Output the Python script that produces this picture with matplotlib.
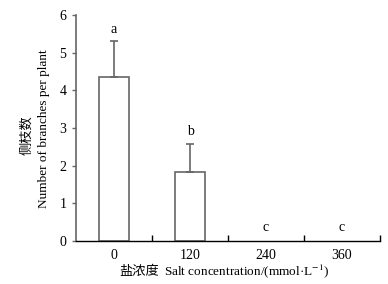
import numpy as np
import matplotlib
matplotlib.use("Agg")
import matplotlib.pyplot as plt

plt.rcParams['font.family'] = ['Liberation Serif', 'Noto Sans CJK SC']
plt.rcParams['mathtext.fontset'] = 'stix'

# dati
concentrazioni = ['0', '120', '240', '360']
rami = [4.35, 1.83, 0.0, 0.0]
errori = [0.95, 0.75, 0.0, 0.0]
lettere = ['a', 'b', 'c', 'c']
pos_lettere = [5.62, 2.9, 0.35, 0.35]

grigio = '#666666'
W, H = 388, 284

fig = plt.figure(figsize=(W / 100, H / 100), dpi=100)
ax = fig.add_axes([76 / W, 1 - 241 / H, 304 / W, 226 / H])

x = np.arange(len(concentrazioni))
v = np.array(rami)
mask = v > 0
ax.bar(x[mask], v[mask], width=0.4, color='white', edgecolor=grigio, linewidth=1.2)
for xi, val, e in zip(x, rami, errori):
    if e > 0:
        ax.errorbar(xi, val, yerr=[[0], [e]], fmt='none', ecolor=grigio,
                    elinewidth=1.2, capsize=2.7, capthick=1.2)

for xi, l, yl in zip(x, lettere, pos_lettere):
    ax.text(xi, yl, l, ha='center', va='center', fontsize=10)

ax.set_xlim(-0.5, 3.5)
ax.set_ylim(0, 6)
ax.set_xticks(x)
ax.set_xticklabels(concentrazioni, fontsize=10)
ax.set_yticks(range(7))
ax.tick_params(axis='y', labelsize=10, direction='out', length=3, color=grigio, width=1, pad=4)
ax.tick_params(axis='x', which='major', length=0, pad=6)
ax.set_xticks([0.5, 1.5, 2.5, 3.5], minor=True)
ax.tick_params(axis='x', which='minor', direction='in', length=4, width=1)

ax.spines['top'].set_visible(False)
ax.spines['right'].set_visible(False)
ax.spines['left'].set_color(grigio)
ax.spines['left'].set_linewidth(1.2)
ax.spines['bottom'].set_linewidth(1.0)

# etichette degli assi (cinese + inglese)
fig.text(27 / W, 1 - 135 / H, '侧枝数', family='Noto Sans CJK SC', fontsize=9.5,
         rotation=90, ha='center', va='center')
fig.text(44 / W, 1 - 129 / H, 'Number of branches per plant', fontsize=9.5,
         rotation=90, ha='center', va='center')
fig.text(159 / W, 1 - 271 / H, '盐浓度', family='Noto Sans CJK SC', fontsize=9.5,
         ha='right', va='center')
fig.text(164 / W, 1 - 271 / H, 'Salt concentration/(mmol·L$^{-1}$)', fontsize=9.5,
         ha='left', va='center')

plt.savefig('out.png', dpi=100)
